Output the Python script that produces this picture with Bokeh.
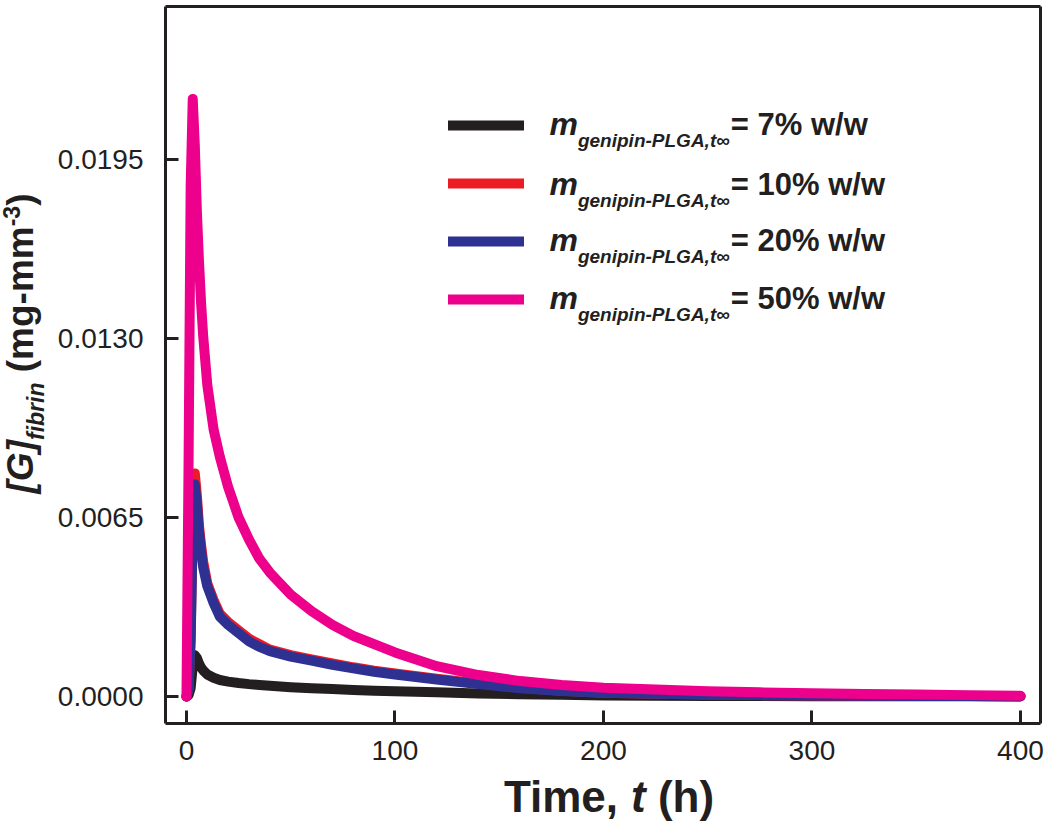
import math
from bokeh.plotting import figure
from bokeh.models import Range1d, FixedTicker, PrintfTickFormatter, Label, Legend, LegendItem, LinearAxis
from bokeh.embed import file_html
from bokeh.resources import INLINE

# ---------------- data ----------------
time_h = [0, 1, 2, 3, 4, 5, 6, 7, 8, 10, 13, 16, 20, 25, 30, 35, 40, 50, 60, 70, 80, 90,
          100, 120, 140, 160, 180, 200, 225, 250, 275, 300, 325, 350, 375, 400]

g_7pct = [0, 0.00005, 0.0003, 0.0011, 0.0015, 0.0014, 0.0012, 0.00105, 0.00095, 0.0008, 0.00068,
          0.0006, 0.00054, 0.00049, 0.00045, 0.00042, 0.00039, 0.00034, 0.0003, 0.00027, 0.00024,
          0.00021, 0.00019, 0.00015, 0.00011, 0.00008, 0.00006, 0.00004, 0.00003, 0.00002, 0.00002,
          0.00001, 0.00001, 0.00001, 0.00001, 0.0]

g_10pct = [0, 0.0003, 0.0022, 0.0062, 0.0081, 0.0073, 0.0062, 0.0055, 0.0049, 0.0041, 0.0035,
           0.0030, 0.0027, 0.0024, 0.0021, 0.0019, 0.0017, 0.0015, 0.00135, 0.0012, 0.00106,
           0.00094, 0.00084, 0.00065, 0.00047, 0.00032, 0.00021, 0.00014, 0.0001, 0.00007, 0.00005,
           0.00004, 0.00003, 0.00002, 0.00002, 0.00001]

g_20pct = [0, 0.0003, 0.002, 0.006, 0.0077, 0.0070, 0.0060, 0.0053, 0.0047, 0.0040, 0.0034,
           0.0029, 0.0026, 0.0023, 0.0020, 0.0018, 0.00165, 0.00145, 0.0013, 0.00115, 0.00102,
           0.0009, 0.0008, 0.00062, 0.00045, 0.0003, 0.0002, 0.00014, 0.0001, 0.00007, 0.00005,
           0.00004, 0.00003, 0.00002, 0.00002, 0.00001]

g_50pct = [0, 0.0085, 0.0185, 0.0217, 0.0200, 0.0176, 0.0158, 0.0143, 0.0131, 0.0113, 0.0097,
           0.0087, 0.0076, 0.0065, 0.0057, 0.0050, 0.0045, 0.0037, 0.0031, 0.0026, 0.0022,
           0.0019, 0.0016, 0.0011, 0.00078, 0.00056, 0.00042, 0.00032, 0.00025, 0.00019, 0.00015,
           0.00012, 0.00009, 0.00007, 0.00005, 0.00003]

series_pct = ["7", "10", "20", "50"]
series_colors = ["#231f20", "#ed1c24", "#2e3192", "#ec008c"]

x_ticks = [0, 100, 200, 300, 400]
y_ticks = [0.0, 0.0065, 0.0130, 0.0195]

# ---------------- figure ----------------
FONT = "Liberation Sans"
INK = "#231f20"
W, H = 1050, 824

# data extent of the whole canvas; the boxed plot area sits inside it
XR = (-89.2, 414.4)
YR = (-0.004648, 0.025274)
BOX_X = (-10.07, 409.6)
BOX_Y = (-0.00098, 0.02505)

p = figure(width=W, height=H, output_backend="svg", toolbar_location=None,
           x_range=Range1d(*XR), y_range=Range1d(*YR),
           min_border_left=0, min_border_right=0, min_border_top=0, min_border_bottom=0)
p.background_fill_color = "white"
p.border_fill_color = "white"
p.outline_line_color = None
p.grid.visible = False

xa, ya = p.xaxis[0], p.yaxis[0]
xa.fixed_location = BOX_Y[0]
ya.fixed_location = BOX_X[0]
xa.bounds = BOX_X
ya.bounds = BOX_Y

for ax in (xa, ya):
    ax.axis_line_width = 3
    ax.axis_line_color = INK
    ax.major_tick_line_width = 3
    ax.major_tick_line_color = INK
    ax.major_tick_in = 13
    ax.major_tick_out = 0
    ax.minor_tick_line_color = None
    ax.major_label_text_font = FONT
    ax.major_label_text_color = INK
    ax.axis_label = None

xa.ticker = FixedTicker(ticks=x_ticks)
xa.major_label_text_font_size = "28px"
xa.major_label_standoff = 18

ya.ticker = FixedTicker(ticks=y_ticks)
ya.formatter = PrintfTickFormatter(format="%.4f")
ya.major_label_text_font_size = "28px"
ya.major_label_standoff = 22

# top and right edges of the box
top_ax = LinearAxis(fixed_location=BOX_Y[1], bounds=BOX_X, ticker=FixedTicker(ticks=[]),
                    axis_line_width=3, axis_line_color=INK, major_tick_line_color=None,
                    minor_tick_line_color=None, major_label_text_font_size="0px")
right_ax = LinearAxis(fixed_location=BOX_X[1], bounds=BOX_Y, ticker=FixedTicker(ticks=[]),
                      axis_line_width=3, axis_line_color=INK, major_tick_line_color=None,
                      minor_tick_line_color=None, major_label_text_font_size="0px")
p.add_layout(top_ax, "above")
p.add_layout(right_ax, "right")

renderers = []
for ys, col in zip([g_7pct, g_10pct, g_20pct, g_50pct], series_colors):
    r = p.line(time_h, ys, line_color=col, line_width=10, line_cap="round", line_join="round")
    renderers.append(r)

# legend samples (labels drawn separately as rich text)
legend = Legend(items=[LegendItem(label=" ", renderers=[r]) for r in renderers],
                location=(448, 496), orientation="vertical",
                glyph_width=76, glyph_height=58, spacing=0, padding=0, margin=0,
                label_standoff=0, label_text_font_size="1px", label_height=58,
                border_line_alpha=0, background_fill_alpha=0)
p.add_layout(legend, "center")

# ---------------- rich text helpers ----------------
AW = {' ': 278, '(': 333, ')': 333, '[': 333, ']': 333, '-': 333, ',': 278, '/': 278, '%': 889,
      '=': 584, 'A': 722, 'G': 778, 'L': 611, 'P': 667, 'T': 611, 'a': 556, 'b': 611, 'e': 556,
      'f': 333, 'g': 611, 'h': 611, 'i': 278, 'm': 889, 'n': 611, 'p': 611, 'r': 389, 't': 333,
      'w': 778, '\u221e': 713}

BASE_FIX = 0.35  # renderer places the alphabetic baseline ~0.35em below the anchor


def tw(s, size):
    return sum(AW.get(c, 556) for c in s) * size / 1000.0


def put(text, x, y, size, style, angle=0.0):
    # x, y: canvas pixels from top-left of the wanted baseline start
    if angle == 0.0:
        y = y - BASE_FIX * size
    else:
        x = x - BASE_FIX * size
    p.add_layout(Label(x=x, y=H - y, x_units="screen", y_units="screen",
                       text=text, text_font=FONT, text_font_size=f"{size}px",
                       text_font_style=style, text_color=INK, angle=angle,
                       text_align="left", text_baseline="alphabetic"))


# legend texts
row_centers = [125, 185, 241, 299]
for pct, yc in zip(series_pct, row_centers):
    base = yc + 10
    x0 = 549
    put("m", x0, base, 32, "bold italic")
    x1 = x0 + tw("m", 32)
    sub = "genipin-PLGA,t\u221e"
    put(sub, x1, base + 12, 19, "bold italic")
    x2 = x1 + tw(sub, 19) + 1
    put(f"= {pct}% w/w", x2, base, 31, "bold")

# x-axis title: "Time, t (h)"  (spaces handled as advances)
XS = 44
parts_x = [("Time,", "bold", 1), ("t", "bold italic", 1), ("(h)", "bold", 0)]
total = sum(tw(s, XS) + sp * tw(" ", XS) for s, _, sp in parts_x)
cx = (165 + 1040) / 2 + 6
xx = cx - total / 2
for s, st, sp in parts_x:
    put(s, xx, 811, XS, st)
    xx += tw(s, XS) + sp * tw(" ", XS)

# y-axis title: "[G]fibrin (mg-mm-3)" rotated
YS = 37
SUBS = 23
bx = 33          # baseline x (canvas px)
parts_y = [("[G]", YS, "bold italic", 0, 0), ("fibrin", SUBS, "bold italic", 11, 1),
           ("(mg-mm", YS, "bold", 0, 0), ("-3", SUBS, "bold", -14, 0), (")", YS, "bold", 0, 0)]
total = sum(tw(s, sz) + sp * tw(" ", YS) for s, sz, _, _, sp in parts_y)
yy = 343 + total / 2   # bottom start (canvas y grows downward)
for s, sz, st, shift, sp in parts_y:
    put(s, bx + shift, yy, sz, st, angle=math.pi / 2)
    yy -= tw(s, sz) + sp * tw(" ", YS)

open("out.html", "w").write(file_html(p, INLINE))
